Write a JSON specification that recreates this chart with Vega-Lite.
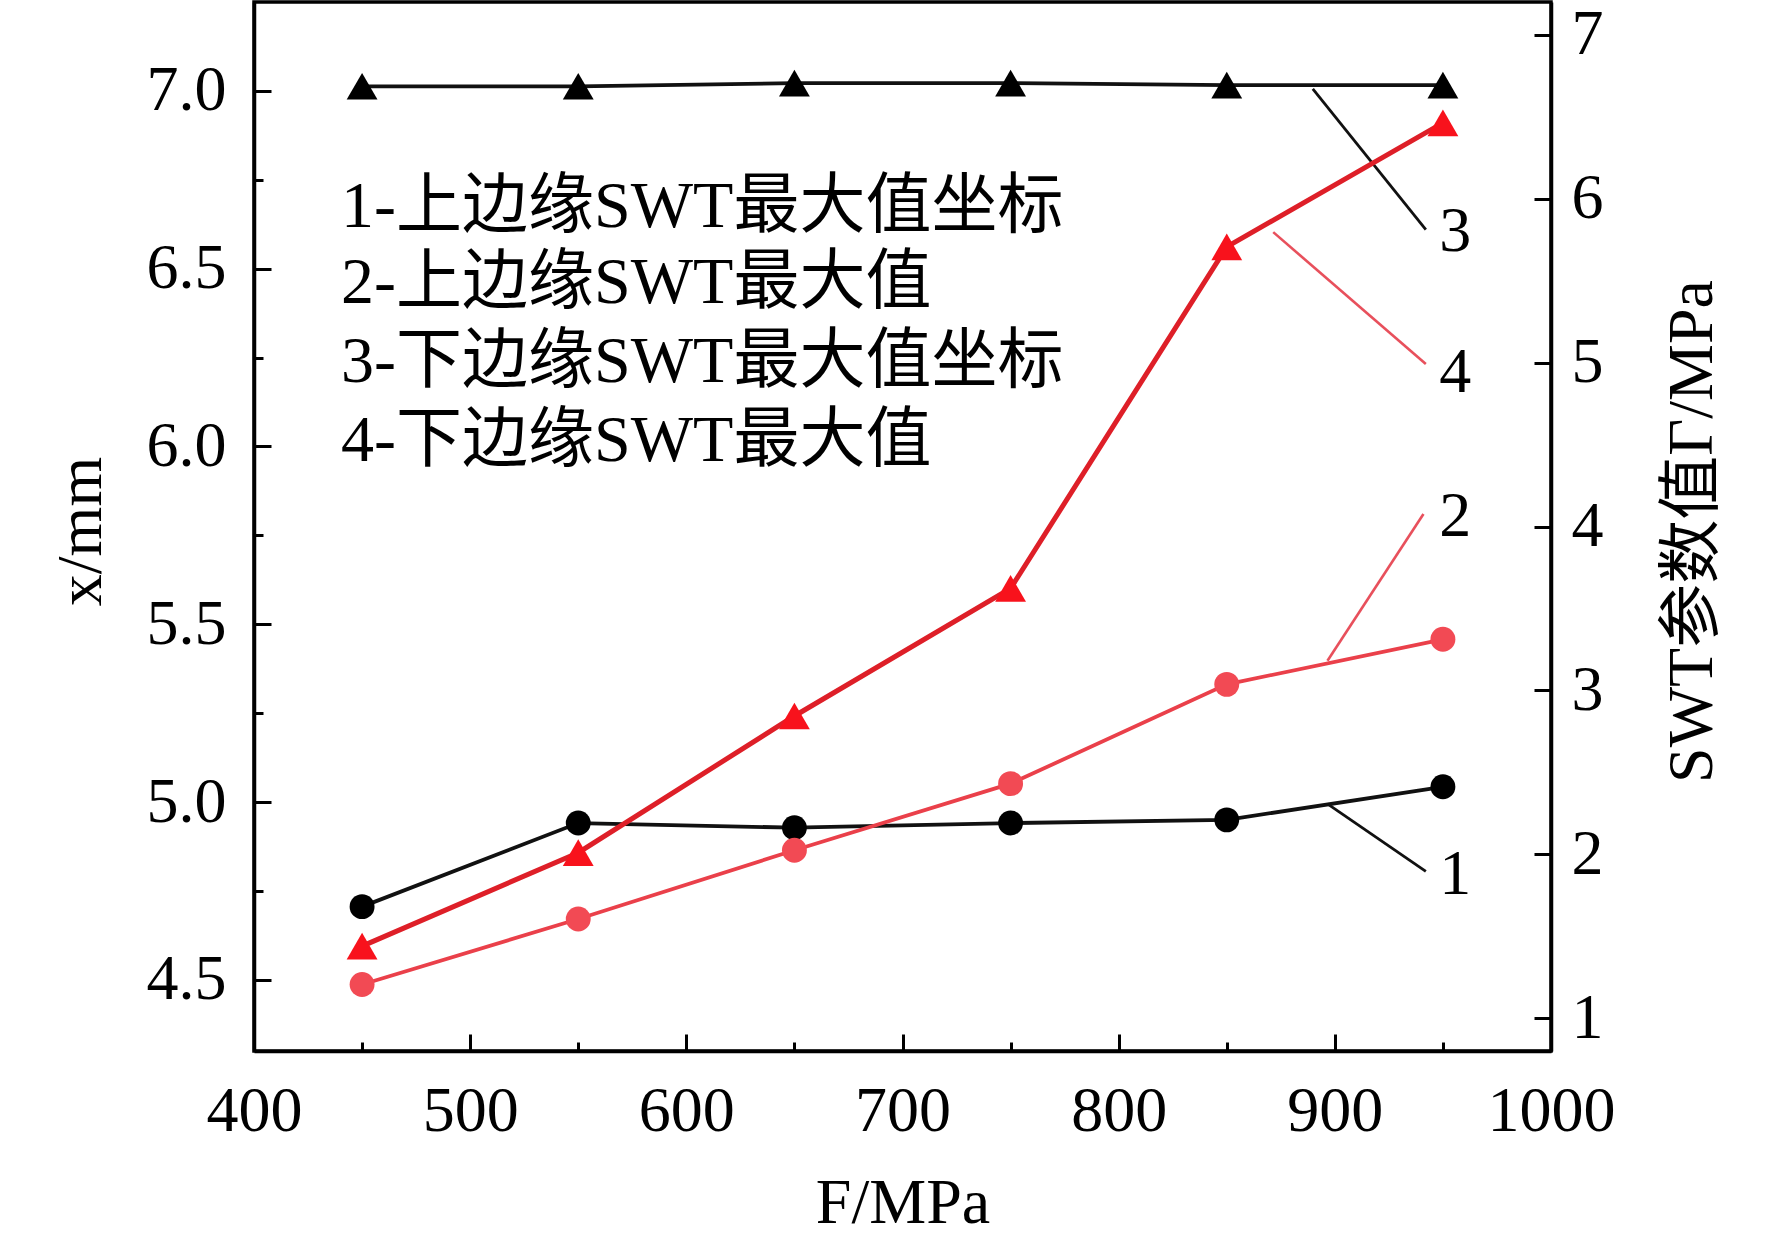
{
  "$schema": "https://vega.github.io/schema/vega-lite/v6.json",
  "autosize": "none",
  "width": 1297,
  "height": 1049,
  "padding": {"left": 254, "top": 2, "right": 221, "bottom": 191},
  "background": "white",
  "datasets": {
    "left": [
      {"s": "1", "F": 450, "v": 4.706},
      {"s": "1", "F": 550, "v": 4.941},
      {"s": "1", "F": 650, "v": 4.928},
      {"s": "1", "F": 750, "v": 4.941},
      {"s": "1", "F": 850, "v": 4.95},
      {"s": "1", "F": 950, "v": 5.043},
      {"s": "3", "F": 450, "v": 7.013},
      {"s": "3", "F": 550, "v": 7.013},
      {"s": "3", "F": 650, "v": 7.022},
      {"s": "3", "F": 750, "v": 7.022},
      {"s": "3", "F": 850, "v": 7.016},
      {"s": "3", "F": 950, "v": 7.016}
    ],
    "right": [
      {"s": "2", "F": 450, "v": 1.206},
      {"s": "2", "F": 550, "v": 1.605},
      {"s": "2", "F": 650, "v": 2.025},
      {"s": "2", "F": 750, "v": 2.431},
      {"s": "2", "F": 850, "v": 3.037},
      {"s": "2", "F": 950, "v": 3.312},
      {"s": "4", "F": 450, "v": 1.44},
      {"s": "4", "F": 550, "v": 2.01},
      {"s": "4", "F": 650, "v": 2.844},
      {"s": "4", "F": 750, "v": 3.622},
      {"s": "4", "F": 850, "v": 5.706},
      {"s": "4", "F": 950, "v": 6.463}
    ],
    "leadersLeft": [
      {"s": "1", "F": 896.6, "v": 4.995, "F2": 942.1, "v2": 4.805},
      {"s": "3", "F": 889.8, "v": 7.006, "F2": 942.1, "v2": 6.61}
    ],
    "leadersRight": [
      {"s": "2", "F": 896.6, "v": 3.181, "F2": 941.0, "v2": 4.076},
      {"s": "4", "F": 871.5, "v": 5.796, "F2": 942.1, "v2": 4.991}
    ],
    "numbers": [
      {"t": "1", "F": 955.7, "v": 4.795},
      {"t": "2", "F": 955.7, "v": 5.801},
      {"t": "3", "F": 955.7, "v": 6.603},
      {"t": "4", "F": 955.7, "v": 6.207}
    ],
    "legendText": [
      {"t": "1-上边缘SWT最大值坐标", "F": 440.3, "v": 6.673},
      {"t": "2-上边缘SWT最大值", "F": 440.3, "v": 6.46},
      {"t": "3-下边缘SWT最大值坐标", "F": 440.3, "v": 6.239},
      {"t": "4-下边缘SWT最大值", "F": 440.3, "v": 6.016}
    ]
  },
  "layer": [
    {
      "layer": [
        {
          "data": {"name": "left"},
          "mark": {"type": "line", "color": "#111111", "strokeWidth": 3.8},
          "encoding": {
            "x": {
              "field": "F",
              "type": "quantitative",
              "scale": {"domain": [400, 1000], "nice": false, "zero": false},
              "axis": {
                "orient": "bottom",
                "values": [400, 450, 500, 550, 600, 650, 700, 750, 800, 850, 900, 950, 1000],
                "labelExpr": "datum.value % 100 === 0 ? datum.label : ''",
                "format": "d",
                "tickSize": {"condition": {"test": "datum.value % 100 === 0", "value": -17}, "value": -9},
                "labelPadding": 45,
                "title": "F/MPa",
                "titleY": 152,
                "titleBaseline": "middle"
              }
            },
            "y": {
              "field": "v",
              "type": "quantitative",
              "scale": {"domain": [4.3, 7.25], "nice": false, "zero": false},
              "axis": {
                "orient": "left",
                "values": [4.5, 4.75, 5, 5.25, 5.5, 5.75, 6, 6.25, 6.5, 6.75, 7],
                "format": ".1f",
                "labelExpr": "(datum.value * 2) % 1 === 0 ? datum.label : ''",
                "tickSize": {"condition": {"test": "(datum.value * 2) % 1 === 0", "value": -17}, "value": -9},
                "labelPadding": 45,
                "title": "x/mm",
                "titleX": -173,
                "titleY": 529,
                "titleAngle": 270,
                "titleAlign": "center",
                "titleBaseline": "middle"
              }
            },
            "detail": {"field": "s", "type": "nominal"}
          }
        },
        {
          "data": {"name": "left"},
          "transform": [{"filter": "datum.s === '1'"}],
          "mark": {"type": "point", "shape": "circle", "filled": true, "opacity": 1, "strokeWidth": 0, "size": 620, "color": "#000000"},
          "encoding": {
            "x": {"field": "F", "type": "quantitative"},
            "y": {"field": "v", "type": "quantitative"}
          }
        },
        {
          "data": {"name": "left"},
          "transform": [{"filter": "datum.s === '3'"}],
          "mark": {"type": "point", "shape": "triangle-up", "filled": true, "opacity": 1, "strokeWidth": 0, "size": 950, "color": "#000000"},
          "encoding": {
            "x": {"field": "F", "type": "quantitative"},
            "y": {"field": "v", "type": "quantitative"}
          }
        },
        {
          "data": {"name": "leadersLeft"},
          "mark": {"type": "rule", "color": "#111111", "strokeWidth": 2.8},
          "encoding": {
            "x": {"field": "F", "type": "quantitative"},
            "x2": {"field": "F2"},
            "y": {"field": "v", "type": "quantitative"},
            "y2": {"field": "v2"}
          }
        },
        {
          "data": {"name": "numbers"},
          "mark": {"type": "text", "align": "center", "baseline": "middle", "fontSize": 64, "font": "Liberation Serif", "color": "black"},
          "encoding": {
            "x": {"field": "F", "type": "quantitative"},
            "y": {"field": "v", "type": "quantitative"},
            "text": {"field": "t"}
          }
        },
        {
          "data": {"name": "legendText"},
          "mark": {"type": "text", "align": "left", "baseline": "middle", "fontSize": 66, "font": "Liberation Serif, Noto Sans CJK SC", "color": "black"},
          "encoding": {
            "x": {"field": "F", "type": "quantitative"},
            "y": {"field": "v", "type": "quantitative"},
            "text": {"field": "t"}
          }
        }
      ]
    },
    {
      "layer": [
        {
          "data": {"name": "right"},
          "transform": [{"filter": "datum.s === '2'"}],
          "mark": {"type": "line", "color": "#ea404a", "strokeWidth": 3.8},
          "encoding": {
            "x": {"field": "F", "type": "quantitative"},
            "y": {
              "field": "v",
              "type": "quantitative",
              "scale": {"domain": [0.8, 7.2], "nice": false, "zero": false},
              "axis": {
                "orient": "right",
                "values": [1, 1.5, 2, 2.5, 3, 3.5, 4, 4.5, 5, 5.5, 6, 6.5, 7],
                "format": "d",
                "labelExpr": "datum.value % 1 === 0 ? datum.label : ''",
                "tickSize": {"condition": {"test": "datum.value % 1 === 0", "value": -17}, "value": -9},
                "labelPadding": 37,
                "title": "SWT参数值Γ/MPa",
                "titleX": 141,
                "titleY": 529,
                "titleAngle": 270,
                "titleAlign": "center",
                "titleBaseline": "middle"
              }
            }
          }
        },
        {
          "data": {"name": "right"},
          "transform": [{"filter": "datum.s === '4'"}],
          "mark": {"type": "line", "color": "#de1f28", "strokeWidth": 5},
          "encoding": {
            "x": {"field": "F", "type": "quantitative"},
            "y": {"field": "v", "type": "quantitative"}
          }
        },
        {
          "data": {"name": "right"},
          "transform": [{"filter": "datum.s === '2'"}],
          "mark": {"type": "point", "shape": "circle", "filled": true, "opacity": 1, "strokeWidth": 0, "size": 620, "color": "#f24a54"},
          "encoding": {
            "x": {"field": "F", "type": "quantitative"},
            "y": {"field": "v", "type": "quantitative"}
          }
        },
        {
          "data": {"name": "right"},
          "transform": [{"filter": "datum.s === '4'"}],
          "mark": {"type": "point", "shape": "triangle-up", "filled": true, "opacity": 1, "strokeWidth": 0, "size": 950, "color": "#f8121c"},
          "encoding": {
            "x": {"field": "F", "type": "quantitative"},
            "y": {"field": "v", "type": "quantitative"}
          }
        },
        {
          "data": {"name": "leadersRight"},
          "mark": {"type": "rule", "color": "#e8505c", "strokeWidth": 2.6},
          "encoding": {
            "x": {"field": "F", "type": "quantitative"},
            "x2": {"field": "F2"},
            "y": {"field": "v", "type": "quantitative"},
            "y2": {"field": "v2"}
          }
        }
      ]
    }
  ],
  "resolve": {"scale": {"y": "independent"}, "axis": {"y": "independent"}},
  "config": {
    "view": {"stroke": "black", "strokeWidth": 3.5},
    "axis": {
      "grid": false,
      "domainColor": "black",
      "domainWidth": 3.5,
      "tickColor": "black",
      "tickWidth": 3,
      "labelFont": "Liberation Serif",
      "labelFontSize": 64,
      "labelColor": "black",
      "labelFlush": false,
      "labelOverlap": false,
      "titleFont": "Liberation Serif, Noto Sans CJK SC",
      "titleFontSize": 64,
      "titleFontWeight": "normal",
      "titleColor": "black"
    }
  }
}
